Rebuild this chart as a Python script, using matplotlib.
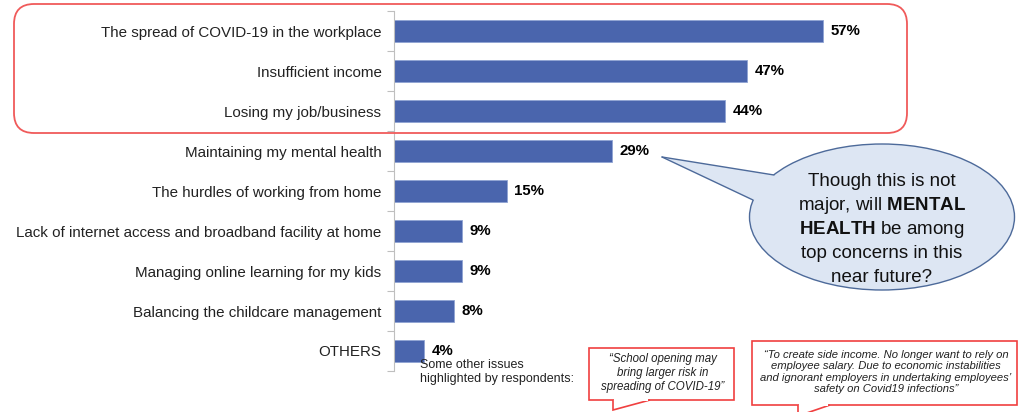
import matplotlib.pyplot as plt
from matplotlib.patches import FancyBboxPatch, Ellipse, Polygon, Rectangle
from matplotlib.lines import Line2D

plt.rcParams['font.family'] = ['Liberation Sans', 'DejaVu Sans']
plt.rcParams['mathtext.fontset'] = 'custom'
plt.rcParams['mathtext.rm'] = 'Liberation Sans'
plt.rcParams['mathtext.bf'] = 'Liberation Sans:bold'

categories = [
    "The spread of COVID-19 in the workplace",
    "Insufficient income",
    "Losing my job/business",
    "Maintaining my mental health",
    "The hurdles of working from home",
    "Lack of internet access and broadband facility at home",
    "Managing online learning for my kids",
    "Balancing the childcare management",
    "OTHERS",
]
values = [57, 47, 44, 29, 15, 9, 9, 8, 4]

bubble_lines = ["Though this is not", "major, will $\\mathbf{MENTAL}$",
                "$\\mathbf{HEALTH}$ be among", "top concerns in this", "near future?"]
quote1 = "\u201cSchool opening may\nbring larger risk in\nspreading of COVID-19\u201d"
quote2 = ("\u201cTo create side income. No longer want to rely on\n"
          "employee salary. Due to economic instabilities\n"
          "and ignorant employers in undertaking employees\u2019\n"
          "safety on Covid19 infections\u201d")

W, H = 1019, 412
fig = plt.figure(figsize=(W / 100, H / 100), dpi=100)

# bar axes placed in pixel terms
ax = fig.add_axes([394 / W, (H - 371) / H, (W - 394) / W, 360 / H])
y = range(len(categories))
ax.barh(y, values, height=0.55, color="#4a65ad", edgecolor="#8fa3d3", linewidth=0.6)
ax.set_ylim(len(categories) - 0.5, -0.5)
ax.set_xlim(0, (W - 394) / 7.52)
for i, v in enumerate(values):
    ax.text(v + 1.0, i, f"{v}%", va="center", ha="left", fontsize=10.8, fontweight="bold")
ax.set_yticks(list(y))
ax.set_yticklabels(categories, fontsize=10.9, color="#222222")
ax.tick_params(axis="y", which="major", length=0, pad=9)
ax.set_yticks([i + 0.5 for i in range(-1, len(categories))], minor=True)
ax.tick_params(axis="y", which="minor", length=5, color="#bfbfbf", width=0.8)
ax.set_xticks([])
for s in ["top", "right", "bottom"]:
    ax.spines[s].set_visible(False)
ax.spines["left"].set_color("#bfbfbf")
ax.spines["left"].set_linewidth(0.8)

# overlay in pixel coords for annotations
ov = fig.add_axes([0, 0, 1, 1], zorder=5)
ov.set_xlim(0, W)
ov.set_ylim(H, 0)
ov.axis("off")
ov.patch.set_alpha(0)

ov.add_patch(FancyBboxPatch((14, 4), 893, 129, boxstyle="round,pad=0,rounding_size=20",
                            fill=False, edgecolor="#f05a5a", linewidth=1.3))

# speech bubble
fill_c, edge_c = "#dde6f3", "#4d6a9a"
tip, p1, p2 = (662, 157), (774, 175), (753, 200)
ov.add_patch(Ellipse((882, 217), 265, 146, facecolor=fill_c, edgecolor=edge_c, linewidth=1.0))
ov.add_patch(Polygon([tip, p1, (800, 195), p2], closed=True, facecolor=fill_c, edgecolor="none"))
for p in (p1, p2):
    ov.add_line(Line2D([tip[0], p[0]], [tip[1], p[1]], color=edge_c, linewidth=1.0,
                       solid_capstyle="round"))
for k, line in enumerate(bubble_lines):
    ov.text(882, 181 + k * 24, line, ha="center", va="center", fontsize=13.5, color="#111111")

ov.text(420, 372, "Some other issues\nhighlighted by respondents:", ha="left", va="center",
        fontsize=9.0, color="#222222", linespacing=1.3)

# quote boxes
red = "#f04040"
ov.add_patch(Rectangle((589, 348), 145, 52, facecolor="white", edgecolor=red, linewidth=1.2))
ov.add_patch(Polygon([(613, 400), (613, 410), (650, 400)], closed=False,
                     facecolor="white", edgecolor=red, linewidth=1.2))
ov.add_patch(Rectangle((614, 398), 34, 3, facecolor="white", edgecolor="none"))
ov.text(663, 373, quote1, ha="center", va="center", fontsize=8.3, style="italic",
        color="#222222", linespacing=1.2)

ov.add_patch(Rectangle((752, 341), 265, 64, facecolor="white", edgecolor=red, linewidth=1.2))
ov.add_patch(Polygon([(798, 405), (798, 416), (830, 405)], closed=False,
                     facecolor="white", edgecolor=red, linewidth=1.2))
ov.add_patch(Rectangle((799, 403), 29, 3, facecolor="white", edgecolor="none"))
ov.text(886, 372, quote2, ha="center", va="center", fontsize=8.1, style="italic",
        color="#222222", linespacing=1.15)

fig.savefig("out.png", dpi=100)
